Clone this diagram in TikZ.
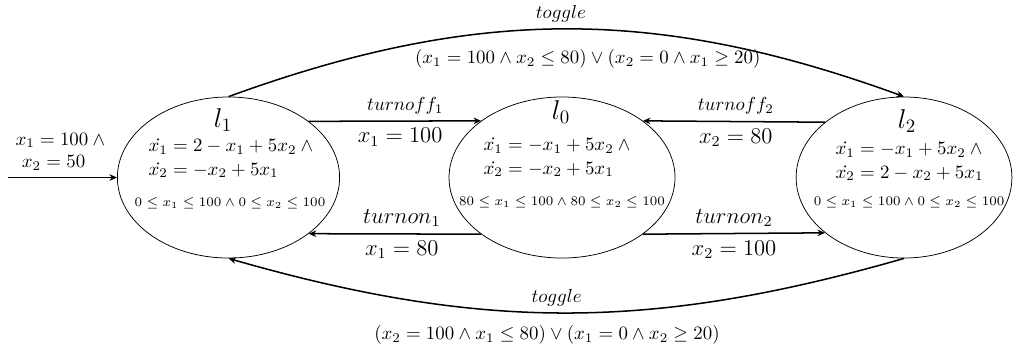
\documentclass[tikz,border=0pt]{standalone}
\usepackage{amsmath,amssymb}
\usetikzlibrary{arrows.meta,positioning,shapes.geometric}

\begin{document}
\begin{tikzpicture}[>={Stealth[length=4pt,width=3.5pt]},
  loc/.style={draw,ellipse,minimum height=3.0cm},
  trans/.style={->,thick},
  locname/.style={font=\Large},
  flow/.style={align=left,anchor=west,font=\fontsize{10.4}{12.4}\selectfont},
  inv/.style={font=\fontsize{7.4}{9}\selectfont},
  guard/.style={font=\large}]
\useasboundingbox (-10.47,-3.121) rectangle (8.42,3.307);
% locations
\node[loc,minimum width=4.14cm] (l1) at (-6.213,0) {};
\node[loc,minimum width=4.21cm] (l0) at (0,0) {};
\node[loc,minimum width=4.02cm] (l2) at (6.371,0) {};
% contents
\node[locname] (n1) at (-6.316,1.071) {$l_1$};
\node[flow] (f1) at (-7.825,0.354) {$\dot{x_1} = 2 - x_1 + 5x_2 \land{}$\\$\dot{x_2} = -x_2 + 5x_1$};
\node[inv] (i1) at (-6.185,-0.475) {$0 \leq x_1 \leq 100 \land 0 \leq x_2 \leq 100$};
\node[locname] (n0) at (-0.019,1.220) {$l_0$};
\node[flow] (f0) at (-1.584,0.373) {$\dot{x_1} = -x_1 + 5x_2 \land{}$\\$\dot{x_2} = -x_2 + 5x_1$};
\node[inv] (i0) at (0,-0.456) {$80 \leq x_1 \leq 100 \land 80 \leq x_2 \leq 100$};
\node[locname] (n2) at (6.427,1.053) {$l_2$};
\node[flow] (f2) at (4.974,0.298) {$\dot{x_1} = -x_1 + 5x_2 \land{}$\\$\dot{x_2} = 2 - x_2 + 5x_1$};
\node[inv] (i2) at (6.465,-0.456) {$0 \leq x_1 \leq 100 \land 0 \leq x_2 \leq 100$};
% transitions
\coordinate (init) at (-10.321,0);
\draw[trans] (init) -- node[above,align=left] {$x_1 = 100 \land{}$\\~$x_2 = 50$} (l1);
\draw[trans] (l1.35) -- node[pos=0.56,above] {$turnoff_1$} node[pos=0.53,below,guard] {$x_1 = 100$} (l0.145);
\draw[trans] (l0.215) -- node[pos=0.46,above,guard] {$turnon_1$} node[pos=0.46,below,guard] {$x_1 = 80$} (l1.-35);
\draw[trans] (l2.145) -- node[pos=0.49,above] {$turnoff_2$} node[pos=0.49,below,guard] {$x_2 = 80$} (l0.35);
\draw[trans] (l0.-35) -- node[above,guard] {$turnon_2$} node[below,guard] {$x_2 = 100$} (l2.215);
\draw[trans] (l1.north) to[bend left=20]
  node[above,xshift=-0.1cm] {$toggle$}
  node[below=7pt,xshift=0.4cm] {$(x_1 = 100 \land x_2 \leq 80) \lor (x_2 = 0 \land x_1 \geq 20)$} (l2.north);
\draw[trans] (l2.south) to[bend left=16]
  node[above,xshift=-0.18cm] {$toggle$}
  node[below=3pt,xshift=-0.36cm] {$(x_2 = 100 \land x_1 \leq 80) \lor (x_1 = 0 \land x_2 \geq 20)$} (l1.south);
\end{tikzpicture}
\end{document}
